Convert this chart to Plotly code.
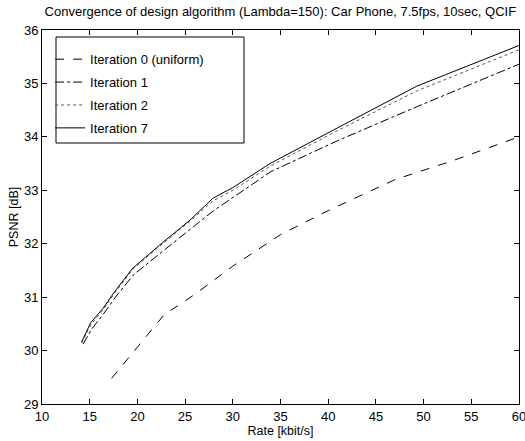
import plotly.graph_objects as go

# Data
it0_rate = [17.3, 22.8, 26.0, 30.0, 35.0, 40.0, 47.0, 53.0, 60.0]
it0_psnr = [29.48, 30.67, 31.05, 31.58, 32.17, 32.62, 33.20, 33.55, 34.00]

it1_rate = [14.3, 15.2, 16.5, 17.7, 19.6, 22.4, 25.6, 28.0, 30.0, 34.0, 41.0, 49.5, 60.0]
it1_psnr = [30.12, 30.40, 30.70, 31.00, 31.42, 31.83, 32.28, 32.62, 32.86, 33.35, 33.93, 34.58, 35.36]

it2_rate = [14.15, 15.1, 16.4, 17.6, 19.5, 22.3, 25.5, 27.9, 30.0, 33.9, 41.0, 49.3, 60.0]
it2_psnr = [30.14, 30.48, 30.76, 31.07, 31.52, 31.95, 32.42, 32.80, 33.00, 33.45, 34.12, 34.86, 35.63]

it7_rate = [14.15, 15.1, 16.4, 17.6, 19.5, 22.3, 25.5, 27.9, 30.0, 33.9, 41.0, 49.3, 60.0]
it7_psnr = [30.16, 30.52, 30.79, 31.10, 31.54, 31.97, 32.44, 32.85, 33.05, 33.50, 34.17, 34.95, 35.71]

names = ["Iteration 0 (uniform)", "Iteration 1", "Iteration 2", "Iteration 7"]
x_ticks = [10, 15, 20, 25, 30, 35, 40, 45, 50, 55, 60]
y_ticks = [29, 30, 31, 32, 33, 34, 35, 36]

FONT = "Liberation Sans, Arial, Helvetica, sans-serif"

fig = go.Figure()
series = [
    (it0_rate, it0_psnr, names[0], "dash", "black"),
    (it1_rate, it1_psnr, names[1], "dashdot", "black"),
    (it2_rate, it2_psnr, names[2], "dot", "#555555"),
    (it7_rate, it7_psnr, names[3], "solid", "black"),
]
for i, (xs, ys, nm, dash, col) in enumerate(series):
    fig.add_trace(go.Scatter(x=xs, y=ys, mode="lines", name=nm, legendgroup=f"g{i}",
                             line=dict(color=col, width=1, dash=dash)))

axis_common = dict(showgrid=False, zeroline=False, showline=True, linecolor="black",
                   linewidth=1, mirror="ticks", ticks="inside", ticklen=5,
                   tickcolor="black", ticklabeloverflow="allow", automargin=False,
                   tickfont=dict(family=FONT, size=13, color="black"))

fig.update_layout(
    width=525, height=441,
    margin=dict(l=42, r=6, t=30, b=37, autoexpand=False),
    paper_bgcolor="white", plot_bgcolor="white",
    font=dict(family=FONT, size=12, color="black"),
    title=dict(text="Convergence of design algorithm (Lambda=150): Car Phone, 7.5fps, 10sec, QCIF",
               x=0.534, xanchor="center", y=0.975, yanchor="middle",
               font=dict(family=FONT, size=13, color="black")),
    xaxis=dict(range=[10, 60], tickvals=x_ticks,
               title=dict(text="Rate [kbit/s]", standoff=1, font=dict(family=FONT, size=12.5)),
               **axis_common),
    yaxis=dict(range=[29, 36], tickvals=y_ticks,
               title=dict(text="PSNR [dB]", standoff=2, font=dict(family=FONT, size=12.5)),
               **axis_common),
    legend=dict(x=0.017, y=0.962, xanchor="left", yanchor="top",
                bgcolor="rgba(0,0,0,0)", borderwidth=0,
                font=dict(family=FONT, size=13, color="black"),
                tracegroupgap=3),
    shapes=[dict(type="rect", xref="paper", yref="paper",
                 x0=(56 - 42) / 477, x1=(244 - 42) / 477,
                 y0=(404 - 143) / 374, y1=(404 - 37) / 374,
                 line=dict(color="black", width=1), fillcolor="white", layer="below")],
)

fig.write_html("out.html")
